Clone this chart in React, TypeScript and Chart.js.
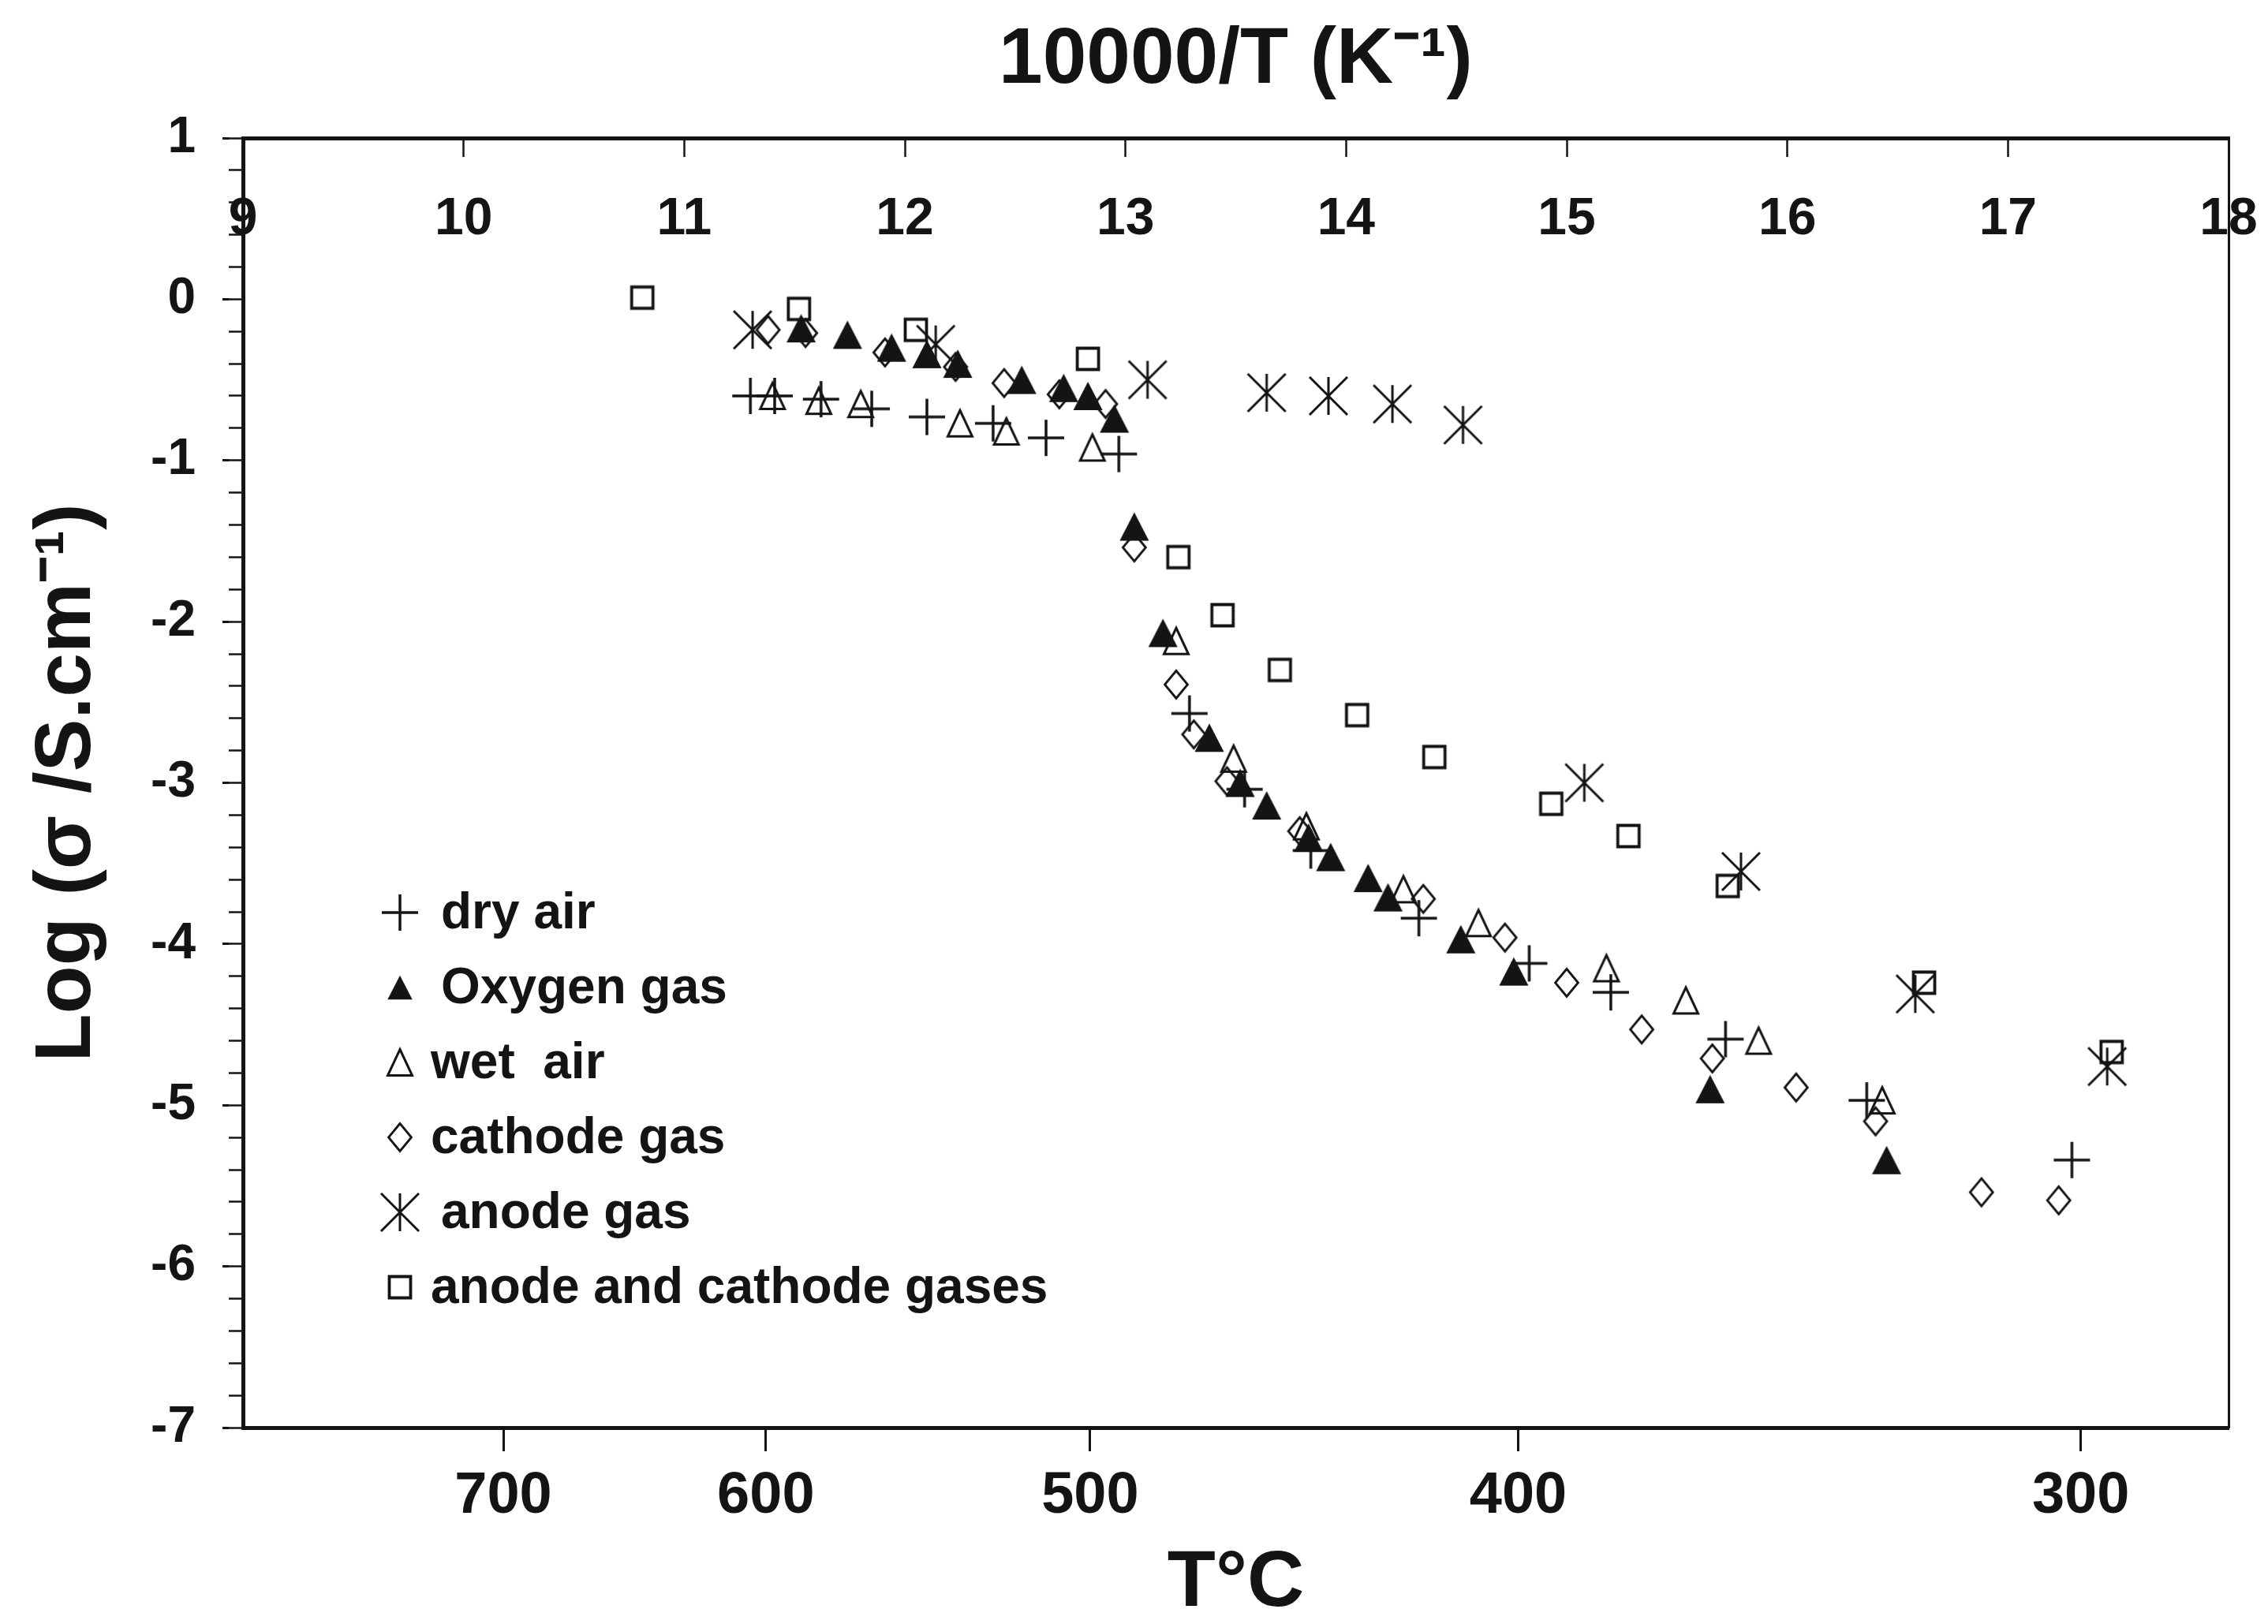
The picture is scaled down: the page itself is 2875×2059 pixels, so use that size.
import React, { useEffect, useRef } from 'react';
import { Chart, registerables } from 'chart.js';

Chart.register(...registerables);

// ---------------- data ----------------
const seriesNames = ['dry air', 'Oxygen gas', 'wet  air', 'cathode gas', 'anode gas', 'anode and cathode gases'];

const dryAirX = [11.30, 11.41, 11.62, 11.85, 12.10, 12.40, 12.64, 12.97, 13.29, 13.54, 13.84, 14.33, 14.83, 15.20, 15.72, 16.36, 17.29];
const dryAirY = [-0.60, -0.60, -0.62, -0.68, -0.73, -0.77, -0.86, -0.96, -2.57, -3.04, -3.42, -3.84, -4.12, -4.30, -4.59, -4.97, -5.34];

const oxygenX = [11.53, 11.74, 11.94, 12.10, 12.24, 12.53, 12.72, 12.83, 12.95, 13.04, 13.17, 13.38, 13.52, 13.64, 13.83, 13.93, 14.10, 14.19, 14.52, 14.76, 15.65, 16.45];
const oxygenY = [-0.18, -0.22, -0.30, -0.34, -0.40, -0.50, -0.55, -0.60, -0.74, -1.41, -2.07, -2.72, -3.00, -3.14, -3.34, -3.46, -3.59, -3.71, -3.97, -4.17, -4.90, -5.34];

const wetAirX = [11.40, 11.61, 11.80, 12.25, 12.46, 12.85, 13.23, 13.49, 13.82, 14.26, 14.60, 15.18, 15.54, 15.87, 16.43];
const wetAirY = [-0.60, -0.63, -0.65, -0.77, -0.82, -0.92, -2.12, -2.85, -3.27, -3.66, -3.87, -4.15, -4.35, -4.60, -4.97];

const cathodeX = [11.38, 11.55, 11.91, 12.23, 12.45, 12.70, 12.91, 13.04, 13.23, 13.31, 13.46, 13.79, 14.35, 14.72, 15.00, 15.34, 15.66, 16.04, 16.40, 16.88, 17.23];
const cathodeY = [-0.19, -0.21, -0.33, -0.42, -0.52, -0.59, -0.65, -1.54, -2.39, -2.70, -2.99, -3.30, -3.72, -3.96, -4.24, -4.53, -4.71, -4.89, -5.10, -5.54, -5.59];

const anodeX = [11.31, 12.14, 13.10, 13.64, 13.92, 14.21, 14.53, 15.08, 15.79, 16.58, 17.45];
const anodeY = [-0.19, -0.28, -0.50, -0.58, -0.60, -0.65, -0.78, -3.00, -3.55, -4.31, -4.76];

const bothX = [10.81, 11.52, 12.05, 12.83, 13.24, 13.44, 13.70, 14.05, 14.40, 14.93, 15.28, 15.73, 16.62, 17.47];
const bothY = [0.01, -0.06, -0.19, -0.37, -1.60, -1.96, -2.30, -2.58, -2.84, -3.13, -3.33, -3.64, -4.24, -4.67];

// axes
const topTickValues = [9, 10, 11, 12, 13, 14, 15, 16, 17, 18];
const bottomTickPositions = [10.18, 11.37, 12.84, 14.78, 17.33];
const bottomTickLabels = ['700', '600', '500', '400', '300'];
const yMajorTicks = [-7, -6, -5, -4, -3, -2, -1, 0, 1];
const topTitle = '10000/T (K\u207B\u00B9)';
const bottomTitle = 'T°C';
const yTitle = 'Log (\u03C3 /S.cm\u207B\u00B9)';

// ---------------- styling ----------------
const FONT = '"Liberation Sans", Arial, Helvetica, sans-serif';
const INK = '#141414';

type MarkerKind = 'plus' | 'triFilled' | 'triOpen' | 'diamond' | 'asterisk' | 'square';
const markerKinds: MarkerKind[] = ['plus', 'triFilled', 'triOpen', 'diamond', 'asterisk', 'square'];

function drawMarker(ctx: CanvasRenderingContext2D, kind: MarkerKind, scale = 1) {
  ctx.save();
  ctx.strokeStyle = INK;
  ctx.fillStyle = INK;
  ctx.lineJoin = 'miter';
  ctx.beginPath();
  switch (kind) {
    case 'plus': {
      const h = 23 * scale;
      ctx.lineWidth = 3.5;
      ctx.moveTo(-h, 0); ctx.lineTo(h, 0);
      ctx.moveTo(0, -h); ctx.lineTo(0, h);
      ctx.stroke();
      break;
    }
    case 'triFilled': {
      const w = 37 * scale, hh = 36 * scale;
      ctx.moveTo(0, -hh / 2); ctx.lineTo(w / 2, hh / 2); ctx.lineTo(-w / 2, hh / 2);
      ctx.closePath();
      ctx.fill();
      break;
    }
    case 'triOpen': {
      const w = 31 * scale, hh = 33 * scale;
      ctx.lineWidth = 3;
      ctx.moveTo(0, -hh / 2); ctx.lineTo(w / 2, hh / 2); ctx.lineTo(-w / 2, hh / 2);
      ctx.closePath();
      ctx.stroke();
      break;
    }
    case 'diamond': {
      const w = 29 * scale, hh = 35 * scale;
      ctx.lineWidth = 2.8;
      ctx.moveTo(0, -hh / 2); ctx.lineTo(w / 2, 0); ctx.lineTo(0, hh / 2); ctx.lineTo(-w / 2, 0);
      ctx.closePath();
      ctx.stroke();
      break;
    }
    case 'asterisk': {
      const h = 24 * scale;
      ctx.lineWidth = 3;
      ctx.moveTo(0, -h); ctx.lineTo(0, h);
      ctx.moveTo(-h, -h); ctx.lineTo(h, h);
      ctx.moveTo(h, -h); ctx.lineTo(-h, h);
      ctx.stroke();
      break;
    }
    case 'square': {
      const s = 27 * scale;
      ctx.lineWidth = 3.8;
      ctx.rect(-s / 2, -s / 2, s, s);
      ctx.stroke();
      break;
    }
  }
  ctx.restore();
}

function makeMarkerCanvas(kind: MarkerKind): HTMLCanvasElement {
  const c = document.createElement('canvas');
  c.width = 60;
  c.height = 60;
  const ctx = c.getContext('2d')!;
  ctx.translate(30, 30);
  drawMarker(ctx, kind, 1);
  return c;
}

const legendPlugin = {
  id: 'insideLegend',
  afterDraw(chart: any) {
    const { ctx, chartArea } = chart;
    const markerX = chartArea.left + 199;
    const textX = [chartArea.left + 251, chartArea.left + 251, chartArea.left + 238, chartArea.left + 238, chartArea.left + 251, chartArea.left + 238];
    const firstY = chartArea.top + 982;
    const step = 95;
    const legendScale = [1, 0.85, 1, 1, 1, 1];
    ctx.save();
    ctx.font = `bold 64px ${FONT}`;
    ctx.fillStyle = INK;
    ctx.textBaseline = 'middle';
    ctx.textAlign = 'left';
    seriesNames.forEach((name, i) => {
      const y = firstY + i * step;
      ctx.save();
      ctx.translate(markerX, y);
      drawMarker(ctx, markerKinds[i], legendScale[i]);
      ctx.restore();
      ctx.fillText(name, textX[i], y + 2);
    });
    ctx.restore();
  },
};

function zipXY(xs: number[], ys: number[]) {
  return xs.map((x, i) => ({ x, y: ys[i] }));
}

export default function App() {
  const ref = useRef<HTMLCanvasElement>(null);

  useEffect(() => {
    document.body.style.margin = '0';
    const canvas = ref.current;
    if (!canvas) return;
    const markers = markerKinds.map(makeMarkerCanvas);
    const xs = [dryAirX, oxygenX, wetAirX, cathodeX, anodeX, bothX];
    const ys = [dryAirY, oxygenY, wetAirY, cathodeY, anodeY, bothY];

    const tickFont = (size: number) => ({ family: FONT, size, weight: 'bold' as const });
    const titleFont = { family: FONT, size: 100, weight: 'bold' as const, lineHeight: 1 };

    const chart = new Chart(canvas, {
      type: 'scatter',
      data: {
        datasets: seriesNames.map((name, i) => ({
          label: name,
          data: zipXY(xs[i], ys[i]),
          pointStyle: markers[i] as any,
          pointRadius: 20,
          showLine: false,
          xAxisID: 'x',
          yAxisID: 'y',
        })),
      },
      options: {
        responsive: false,
        animation: false,
        devicePixelRatio: 1,
        layout: { padding: 0 },
        plugins: {
          legend: { display: false },
          tooltip: { enabled: false },
        },
        events: [],
        scales: {
          x: {
            type: 'linear',
            position: 'bottom',
            min: 9,
            max: 18,
            afterBuildTicks: (s: any) => {
              s.ticks = bottomTickPositions.map((v) => ({ value: v }));
            },
            afterFit: (s: any) => { s.height = 249; s.paddingLeft = 0; s.paddingRight = 0; },
            ticks: {
              autoSkip: false,
              maxRotation: 0,
              minRotation: 0,
              padding: 13,
              color: INK,
              font: tickFont(74),
              callback: (_v: any, i: number) => bottomTickLabels[i],
            },
            grid: { drawOnChartArea: false, drawTicks: true, tickLength: 30, tickWidth: 3, tickColor: INK, color: INK },
            border: { display: true, color: INK, width: 5 },
            title: { display: true, text: bottomTitle, color: INK, font: titleFont, padding: { top: 0, bottom: 1 } },
          },
          x2: {
            type: 'linear',
            position: 'top',
            min: 9,
            max: 18,
            afterBuildTicks: (s: any) => {
              s.ticks = topTickValues.map((v) => ({ value: v }));
            },
            afterFit: (s: any) => { s.height = 175; s.paddingLeft = 0; s.paddingRight = 0; },
            ticks: {
              autoSkip: false,
              maxRotation: 0,
              minRotation: 0,
              mirror: true,
              padding: 64,
              color: INK,
              font: tickFont(66),
              callback: (v: any) => String(v),
            },
            grid: { drawOnChartArea: false, drawTicks: true, tickLength: -24, tickWidth: 2.5, tickColor: INK, color: INK },
            border: { display: true, color: INK, width: 5 },
            title: { display: true, text: topTitle, color: INK, font: titleFont, padding: { top: 27, bottom: 0 } },
          },
          y: {
            type: 'linear',
            position: 'left',
            weight: 1,
            min: -7,
            max: 1,
            afterBuildTicks: (s: any) => {
              s.ticks = yMajorTicks.map((v) => ({ value: v }));
            },
            afterFit: (s: any) => { s.width = 290; },
            ticks: {
              autoSkip: false,
              padding: 34,
              color: INK,
              font: tickFont(64),
              callback: (v: any) => String(v),
            },
            grid: { drawOnChartArea: false, drawTicks: true, tickLength: 8, tickWidth: 3, tickColor: INK, color: INK },
            border: { display: false },
            title: { display: true, text: yTitle, color: INK, font: titleFont, padding: { top: 36, bottom: 0 } },
          },
          yMinor: {
            type: 'linear',
            position: 'left',
            weight: 0,
            min: -7,
            max: 1,
            afterFit: (s: any) => { s.width = 18; },
            ticks: { display: false, stepSize: 0.2, autoSkip: false },
            grid: { drawOnChartArea: false, drawTicks: true, tickLength: 18, tickWidth: 2.5, tickColor: INK, color: INK },
            border: { display: true, color: INK, width: 5 },
          },
          yRight: {
            type: 'linear',
            position: 'right',
            min: -7,
            max: 1,
            afterFit: (s: any) => { s.width = 50; },
            ticks: { display: false },
            grid: { drawOnChartArea: false, drawTicks: false },
            border: { display: true, color: INK, width: 3 },
          },
        },
      } as any,
      plugins: [legendPlugin],
    });

    return () => chart.destroy();
  }, []);

  return (
    <div style={{ width: 2875, height: 2059, background: '#ffffff' }}>
      <canvas
        ref={ref}
        width={2875}
        height={2059}
        style={{ width: '2875px', height: '2059px', display: 'block' }}
      />
    </div>
  );
}
